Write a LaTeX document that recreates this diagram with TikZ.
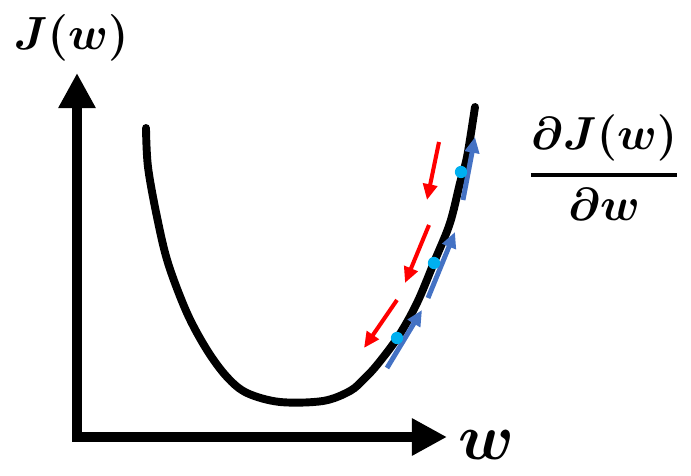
\documentclass[tikz,border=0pt]{standalone}
\usepackage{amsmath}
\usepackage{tikz}
\usetikzlibrary{arrows.meta,positioning}

\definecolor{gradblue}{HTML}{4472C4}
\definecolor{dotcyan}{HTML}{00B0F0}

\begin{document}
\begin{tikzpicture}
        [
            x=0.02cm, y=-0.02cm,
            axisline/.style={line width=6.2pt, line join=miter, {Triangle[length=20pt,width=20pt]}-{Triangle[length=20pt,width=20pt]}},
            costcurve/.style={line width=4.5pt, line cap=round, line join=round},
            gradarrow/.style={gradblue, line width=2.8pt, -{Triangle[length=9pt,width=8pt]}},
            descarrow/.style={red, line width=2.3pt, -{Triangle[length=9pt,width=8pt]}},
            point/.style={circle, fill=dotcyan, inner sep=0pt, minimum size=7pt},
            label/.style={inner sep=0pt, font=\fontsize{24.88}{28}\selectfont},
        ]
            \useasboundingbox (0,0) rectangle (691,476);

            % axes
            \draw[axisline] (77,73) -- (77,437) -- (447,437);
            \node[label, scale=1.065, transform shape] (Jw) at (71,38) {$\boldsymbol{J(w)}$};
            \node[label, scale=1.49, transform shape] (w) at (486,445) {$\boldsymbol{w}$};

            % cost function
            \draw[costcurve] plot[smooth, tension=0.55] coordinates {(146,128) (148,167) (157,217) (168,263) (187,313) (207,350) (227,377) (247,393) (280,402) (323,401) (350,391) (364,379) (377,365) (398,337) (417,303) (435,260) (450,223) (460,183) (467,157) (475,107)};

            % gradients
            \draw[gradarrow] (463,200) -- (475,137);
            \draw[gradarrow] (428,298) -- (455,232);
            \draw[gradarrow] (387,368) -- (422,310);

            \node[point] (P1) at (461,172) {};
            \node[point] (P2) at (434,263) {};
            \node[point] (P3) at (397,338) {};

            % descent steps
            \draw[descarrow] (439,142) -- (427,200);
            \draw[descarrow] (429,225) -- (405,283);
            \draw[descarrow] (397,300) -- (364,348);

            \node[label, scale=1.06, transform shape] (dJdw) at (604,168) {$\displaystyle\genfrac{}{}{2.1pt}{}{\boldsymbol{\partial J(w)}}{\boldsymbol{\partial w}}$};
        \end{tikzpicture}
\end{document}
